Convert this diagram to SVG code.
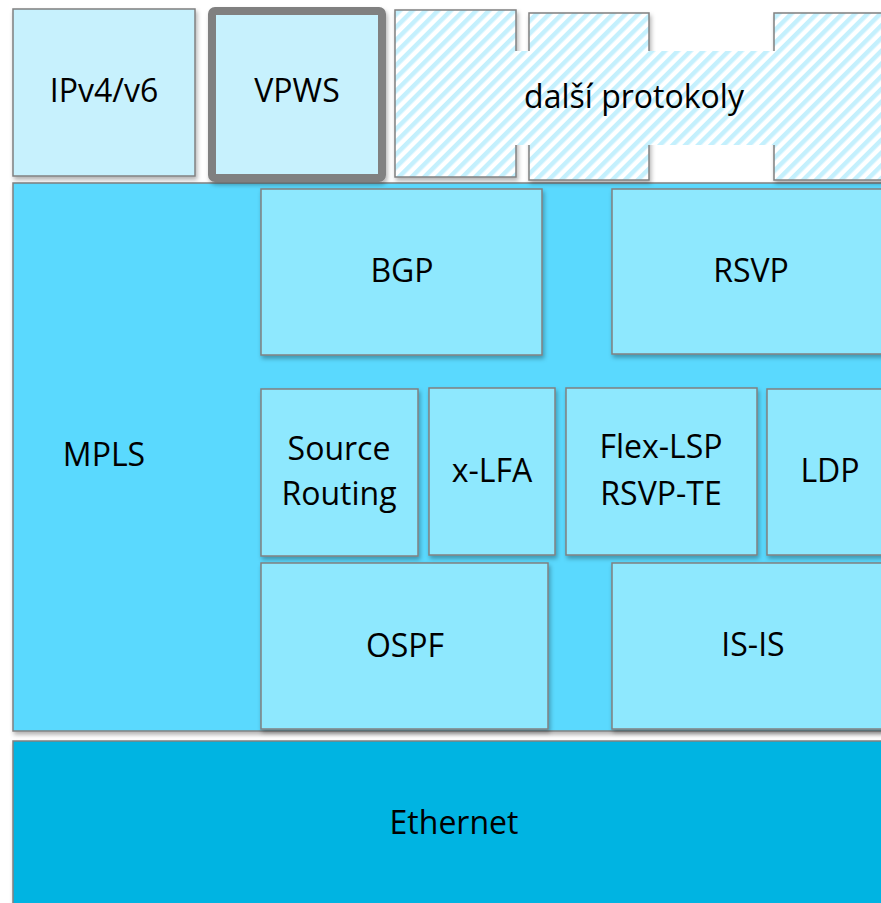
<svg xmlns="http://www.w3.org/2000/svg" width="881" height="903" viewBox="0 0 881 903">
<defs>
  <pattern id="hatch" width="9" height="9" patternUnits="userSpaceOnUse" patternTransform="rotate(45)">
    <rect x="0" y="0" width="9" height="9" fill="#ffffff"/>
    <rect x="0" y="0" width="4.5" height="9" fill="#c4f0fd"/>
  </pattern>
  <filter id="sh" x="-10%" y="-10%" width="120%" height="130%">
    <feDropShadow dx="1.5" dy="3" stdDeviation="2" flood-color="#000" flood-opacity="0.3"/>
  </filter>
</defs>
<style>
  .box { stroke: #808080; stroke-width: 1.5; }
  .top { fill: #c7f1fd; }
  .inner { fill: #8ee8fe; }
  .mpls { fill: #5ad9fe; }
  .eth { fill: #00b4e2; }
  .hat { fill: url(#hatch); }
  text { font-family: "Open Sans", "Noto Sans", sans-serif; font-size: 32px; fill: #000; text-anchor: middle; }
</style>
<rect width="881" height="903" fill="#ffffff"/>

<g id="ethernet">
  <rect class="box eth" x="13" y="741" width="880" height="180" filter="url(#sh)"/>
  <text x="454" y="834">Ethernet</text>
</g>

<g id="mpls">
  <rect class="box mpls" x="13" y="183" width="880" height="548" filter="url(#sh)"/>
  <text x="104" y="466">MPLS</text>
</g>

<g id="ipv4v6">
  <rect class="box top" x="13" y="9" width="182" height="167" filter="url(#sh)"/>
  <text x="104" y="102">IPv4/v6</text>
</g>

<g id="vpws">
  <rect x="212" y="11" width="170" height="167" rx="3" fill="#c7f1fd" stroke="#808080" stroke-width="8" filter="url(#sh)"/>
  <text x="297" y="102">VPWS</text>
</g>

<g id="dalsi-protokoly">
  <rect class="box hat" x="395" y="10" width="121" height="167" filter="url(#sh)"/>
  <rect class="box hat" x="529" y="13" width="120" height="167" filter="url(#sh)"/>
  <rect class="box hat" x="774" y="13" width="120" height="167" filter="url(#sh)"/>
  <rect class="hat" x="514" y="51" width="326" height="94"/>
  <text x="634" y="108">další protokoly</text>
</g>

<g id="bgp">
  <rect class="box inner" x="261" y="189" width="281" height="166" filter="url(#sh)"/>
  <text x="402" y="282">BGP</text>
</g>

<g id="rsvp">
  <rect class="box inner" x="612" y="189" width="280" height="165" filter="url(#sh)"/>
  <text x="751" y="282">RSVP</text>
</g>

<g id="source-routing">
  <rect class="box inner" x="261" y="389" width="157" height="167" filter="url(#sh)"/>
  <text x="339" y="460">Source</text>
  <text x="339" y="505">Routing</text>
</g>

<g id="x-lfa">
  <rect class="box inner" x="429" y="388" width="126" height="167" filter="url(#sh)"/>
  <text x="492" y="482">x-LFA</text>
</g>

<g id="flex-lsp">
  <rect class="box inner" x="566" y="388" width="191" height="167" filter="url(#sh)"/>
  <text x="661" y="458">Flex-LSP</text>
  <text x="661" y="505">RSVP-TE</text>
</g>

<g id="ldp">
  <rect class="box inner" x="767" y="389" width="130" height="166" filter="url(#sh)"/>
  <text x="830" y="482">LDP</text>
</g>

<g id="ospf">
  <rect class="box inner" x="261" y="563" width="287" height="166" filter="url(#sh)"/>
  <text x="405" y="657">OSPF</text>
</g>

<g id="is-is">
  <rect class="box inner" x="612" y="563" width="280" height="166" filter="url(#sh)"/>
  <text x="753" y="656">IS-IS</text>
</g>

<g id="connectors"></g>
</svg>
